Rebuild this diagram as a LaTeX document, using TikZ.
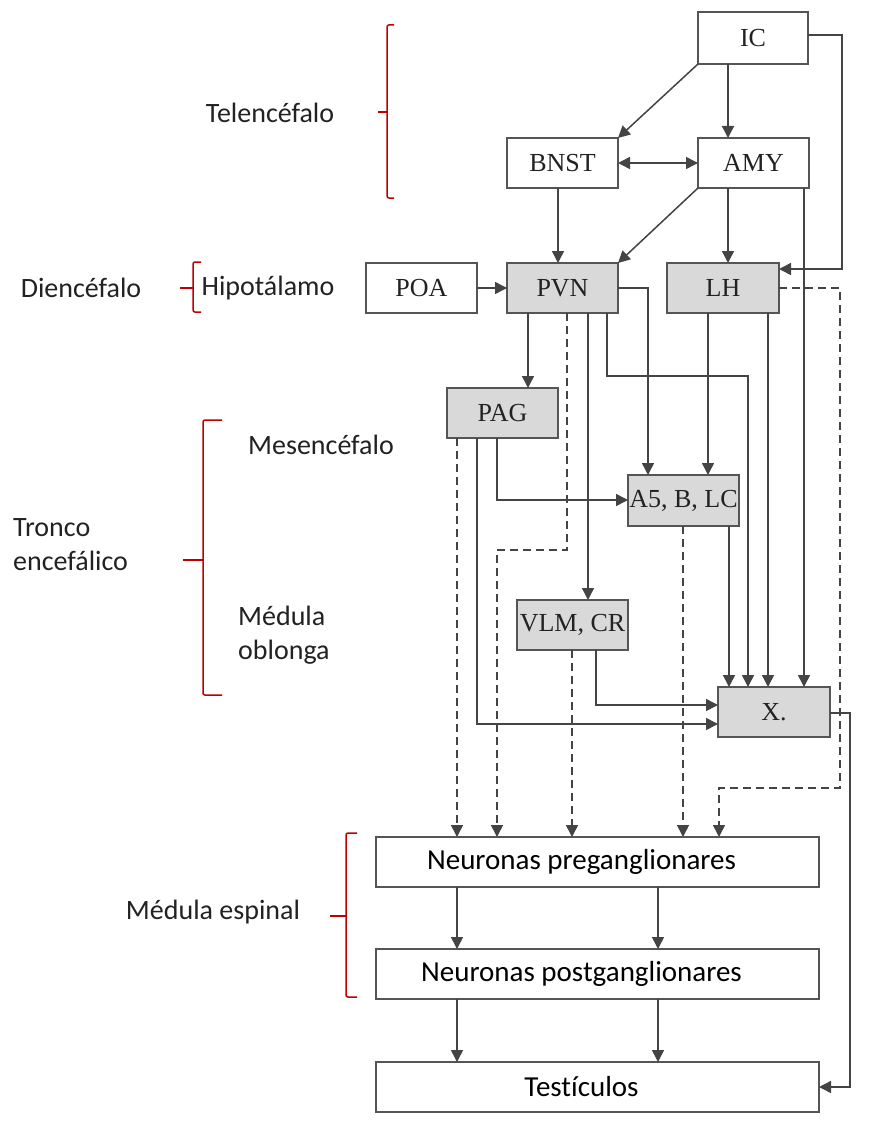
\documentclass[tikz,border=0pt]{standalone}
\usepackage{fontspec}
\setmainfont{Liberation Serif}
\newfontfamily\labfont[Ligatures=NoCommon]{Carlito}
\usetikzlibrary{arrows.meta,calc}
\definecolor{linec}{HTML}{444444}
\definecolor{boxc}{HTML}{555555}
\definecolor{fillc}{HTML}{D9D9D9}
\definecolor{brc}{HTML}{C00000}
\definecolor{txtc}{HTML}{222222}
\begin{document}
\begin{tikzpicture}[x=1pt,y=-1pt,
  box/.style={draw=boxc,line width=1.8pt,minimum width=111pt,minimum height=50pt,inner sep=0pt,outer sep=0pt,font=\fontsize{26}{28}\selectfont,text=txtc},
  gbox/.style={box,fill=fillc},
  wbox/.style={draw=boxc,line width=1.8pt,minimum width=443pt,minimum height=50pt,inner sep=0pt,outer sep=0pt,font=\labfont\fontsize{29}{32}\selectfont,text=black},
  conn/.style={draw=linec,line width=1.5pt},
  arr/.style={conn,-{Triangle[length=12pt,width=12pt]}},
  darr/.style={arr,dash pattern=on 8pt off 5pt},
  lab/.style={font=\labfont\fontsize{28}{34}\selectfont,text=txtc,inner sep=0pt},
  brk/.style={draw=brc,line width=1.5pt,rounded corners=2pt},
  brt/.style={draw=brc,line width=1.5pt}
]
\useasboundingbox (0,0) rectangle (876,1126);
\fill[white] (0,0) rectangle (876,1126);

% nodes
\node[box]  (IC)   at (753,38)    [minimum width=110pt,minimum height=52pt] {IC};
\node[box]  (BNST) at (562.5,163) {BNST};
\node[box]  (AMY)  at (753.5,163) {AMY};
\node[box]  (POA)  at (421.5,288) {POA};
\node[gbox] (PVN)  at (562.5,288) {PVN};
\node[gbox] (LH)   at (723,288)   [minimum width=112pt] {LH};
\node[gbox] (PAG)  at (502.5,413) {PAG};
\node[gbox] (A5)   at (683.5,500.5) [minimum height=51pt] {A5, B, LC};
\node[gbox] (VLM)  at (572.5,625) {VLM, CR};
\node[gbox] (X)    at (774,712)   [minimum width=112pt] {X.};
\node[wbox] (Pre)  at (597.5,862) {\hspace*{-32pt}Neuronas preganglionares};
\node[wbox] (Post) at (597.5,974) {\hspace*{-32pt}Neuronas postganglionares};
\node[wbox] (Test) at (597.5,1087) {\hspace*{-32pt}Testículos};

% left labels
\node[lab] (tel) at (270,113) {Telencéfalo};
\node[lab] (die) at (81,288) {Diencéfalo};
\node[lab] (hip) at (268,288) {Hipotálamo};
\node[lab] (mes) at (321,445) {Mesencéfalo};
\node[lab,anchor=west,align=left] (tro) at (13,545) {Tronco\\encefálico};
\node[lab,anchor=west,align=left] (obl) at (238,635) {Médula\\oblonga};
\node[lab] (esp) at (213,912) {Médula espinal};

% brackets
\draw[brk] (394,25) -- (387,25) -- (387,198) -- (394,198);
\draw[brt] (378,112) -- (387,112);
\draw[brk] (201,262) -- (193,262) -- (193,312) -- (201,312);
\draw[brt] (180,288) -- (193,288);
\draw[brk] (222,420) -- (203,420) -- (203,695) -- (222,695);
\draw[brt] (183,560) -- (203,560);
\draw[brk] (357,833) -- (346,833) -- (346,997) -- (357,997);
\draw[brt] (330,916) -- (346,916);

% connectors
\draw[arr] (IC.south west) -- (BNST.north east);
\draw[arr] (IC.south -| 728,0) -- (AMY.north -| 728,0);
\draw[arr] (IC.east |- 0,35) -- (842,35) -- (842,269) -- (LH.east |- 0,269);
\draw[conn,{Triangle[length=12pt,width=12pt]}-{Triangle[length=12pt,width=12pt]}] (BNST.east) -- (AMY.west);
\draw[arr] (BNST.south -| 558,0) -- (PVN.north -| 558,0);
\draw[arr] (AMY.south west) -- (PVN.north east);
\draw[arr] (AMY.south -| 728,0) -- (LH.north -| 728,0);
\draw[arr] (AMY.south -| 804,0) -- (X.north -| 804,0);
\draw[arr] (POA.east) -- (PVN.west);
\draw[arr] (PVN.east) -- (648,288) -- (A5.north -| 648,0);
\draw[darr] (LH.east) -- (840,288) -- (840,788) -- (719,788) -- (Pre.north -| 719,0);
\draw[arr] (PVN.south -| 528,0) -- (PAG.north -| 528,0);
\draw[darr] (PVN.south -| 567,0) -- (567,550) -- (497,550) -- (Pre.north -| 497,0);
\draw[arr] (PVN.south -| 588,0) -- (VLM.north -| 588,0);
\draw[arr] (PVN.south -| 607,0) -- (607,376) -- (748,376) -- (X.north -| 748,0);
\draw[arr] (LH.south -| 708,0) -- (A5.north -| 708,0);
\draw[arr] (LH.south -| 768,0) -- (X.north -| 768,0);
\draw[darr] (PAG.south -| 457,0) -- (Pre.north -| 457,0);
\draw[arr] (PAG.south -| 477,0) -- (477,724) -- (X.west |- 0,724);
\draw[arr] (PAG.south -| 497,0) -- (497,500) -- (A5.west |- 0,500);
\draw[darr] (A5.south -| 683,0) -- (Pre.north -| 683,0);
\draw[arr] (A5.south -| 729,0) -- (X.north -| 729,0);
\draw[darr] (VLM.south -| 572,0) -- (Pre.north -| 572,0);
\draw[arr] (VLM.south -| 596,0) -- (596,705) -- (X.west |- 0,705);
\draw[arr] (X.east |- 0,713) -- (850,713) -- (850,1087) -- (Test.east);
\draw[arr] (Pre.south -| 457,0) -- (Post.north -| 457,0);
\draw[arr] (Pre.south -| 658,0) -- (Post.north -| 658,0);
\draw[arr] (Post.south -| 457,0) -- (Test.north -| 457,0);
\draw[arr] (Post.south -| 658,0) -- (Test.north -| 658,0);
\end{tikzpicture}
\end{document}
